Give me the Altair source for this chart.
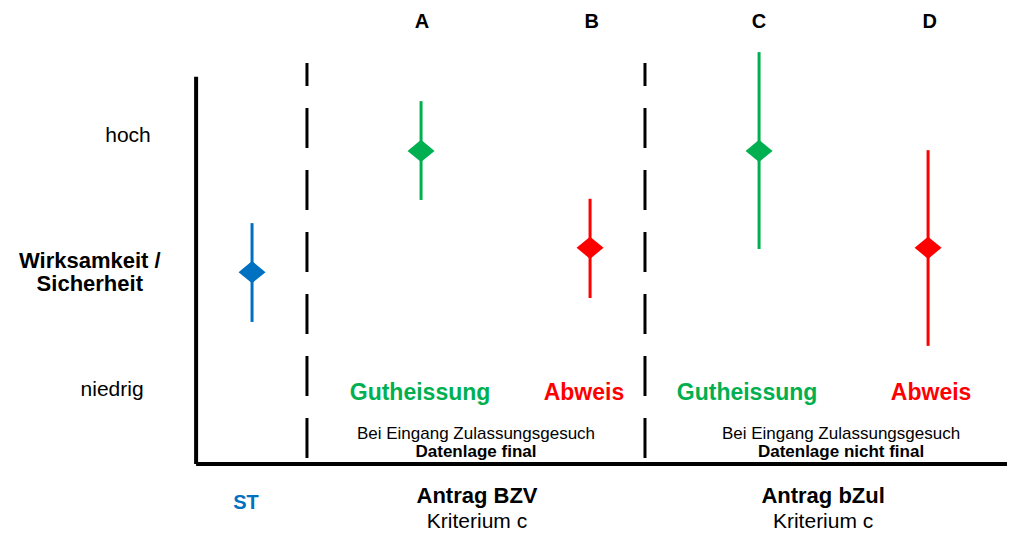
import altair as alt
import pandas as pd

# --- data (x = group index, y = rating scale 0..10 on the drawn axis) ---
cats = ["ST", "A", "B", "C", "D"]
pos = [0, 1, 2, 3, 4]
center = [4.97, 8.11, 5.60, 8.11, 5.60]
low = [3.68, 6.84, 4.30, 5.57, 3.06]
high = [6.24, 9.40, 6.87, 10.67, 8.13]
colors = ["#0070C0", "#00B050", "#FF0000", "#00B050", "#FF0000"]

# dashed separators
sep_x = [0.325, 2.325]
sep_y0 = [0.155, 0.155]
sep_y1 = [10.39, 10.39]

# frame (L-shaped axis)
frame_x0 = -0.331
frame_x1 = 4.50
frame_top = 10.03

# labels
bold_text = ["A", "B", "C", "D", "Wirksamkeit /", "Sicherheit",
             "Gutheissung", "Abweis", "Gutheissung", "Abweis",
             "Datenlage final", "Datenlage nicht final",
             "ST", "Antrag BZV", "Antrag bZul"]
bold_x = [1.006, 2.01, 3.0, 4.01, -0.96, -0.96,
          0.994, 1.964, 2.929, 4.018,
          1.325, 3.485,
          -0.036, 1.331, 3.379]
bold_y = [11.45, 11.45, 11.45, 11.45, 5.25, 4.66,
          1.84, 1.84, 1.84, 1.84,
          0.31, 0.31,
          -1.01, -0.83, -0.83]
bold_size = [20, 20, 20, 20, 22, 22,
             23, 23, 23, 23,
             17, 17,
             20, 22, 22]
bold_color = ["#000000"] * 6 + ["#00B050", "#FF0000", "#00B050", "#FF0000"] + \
             ["#000000", "#000000", "#0070C0", "#000000", "#000000"]

reg_text = ["hoch", "niedrig", "Bei Eingang Zulassungsgesuch",
            "Bei Eingang Zulassungsgesuch", "Kriterium c", "Kriterium c"]
reg_x = [-0.734, -0.828, 1.325, 3.485, 1.331, 3.379]
reg_y = [8.50, 1.92, 0.78, 0.78, -1.50, -1.50]
reg_size = [21, 21, 17, 17, 21, 21]

# --- tables ---
pts = pd.DataFrame({"cat": cats, "x": pos, "c": center, "lo": low,
                    "hi": high, "col": colors})
seps = pd.DataFrame({"x": sep_x, "y0": sep_y0, "y1": sep_y1})
vframe = pd.DataFrame({"x": [frame_x0], "y0": [0.0], "y1": [frame_top]})
hframe = pd.DataFrame({"x0": [frame_x0], "x1": [frame_x1], "y": [0.0]})
btxt = pd.DataFrame({"t": bold_text, "x": bold_x, "y": bold_y,
                     "s": bold_size, "col": bold_color})
rtxt = pd.DataFrame({"t": reg_text, "x": reg_x, "y": reg_y, "s": reg_size})

xs = alt.Scale(domain=[-1.444, 4.467], nice=False, zero=False)
ys = alt.Scale(domain=[-1.736, 11.813], nice=False, zero=False)
FONT = "Liberation Sans"

bars = alt.Chart(pts).mark_rule(strokeWidth=3).encode(
    x=alt.X("x:Q", scale=xs, axis=None),
    y=alt.Y("lo:Q", scale=ys, axis=None),
    y2="hi:Q",
    color=alt.Color("col:N", scale=None),
)
diamonds = alt.Chart(pts).mark_point(
    shape="M-1,0L0,-0.82L1,0L0,0.82Z", size=729, filled=True, opacity=1
).encode(
    x=alt.X("x:Q", scale=xs, axis=None),
    y=alt.Y("c:Q", scale=ys, axis=None),
    color=alt.Color("col:N", scale=None),
)
dash = alt.Chart(seps).mark_rule(strokeWidth=3, strokeDash=[40, 22], color="black").encode(
    x=alt.X("x:Q", scale=xs, axis=None),
    y=alt.Y("y0:Q", scale=ys, axis=None),
    y2="y1:Q",
)
vax = alt.Chart(vframe).mark_rule(strokeWidth=4, color="black").encode(
    x=alt.X("x:Q", scale=xs, axis=None),
    y=alt.Y("y0:Q", scale=ys, axis=None),
    y2="y1:Q",
)
hax = alt.Chart(hframe).mark_rule(strokeWidth=4, color="black").encode(
    x=alt.X("x0:Q", scale=xs, axis=None),
    x2="x1:Q",
    y=alt.Y("y:Q", scale=ys, axis=None),
)
bt = alt.Chart(btxt).mark_text(font=FONT, fontWeight="bold", align="center",
                               baseline="middle").encode(
    x=alt.X("x:Q", scale=xs, axis=None),
    y=alt.Y("y:Q", scale=ys, axis=None),
    text="t:N",
    size=alt.Size("s:Q", scale=None),
    color=alt.Color("col:N", scale=None),
)
rt = alt.Chart(rtxt).mark_text(font=FONT, align="center", baseline="middle",
                               color="black").encode(
    x=alt.X("x:Q", scale=xs, axis=None),
    y=alt.Y("y:Q", scale=ys, axis=None),
    text="t:N",
    size=alt.Size("s:Q", scale=None),
)

chart = alt.layer(vax, hax, dash, bars, diamonds, bt, rt).properties(
    width=999, height=523, padding=0, autosize="none"
).configure_view(stroke=None)

chart.save("out.html", embed_options={"renderer": "svg", "actions": False})
